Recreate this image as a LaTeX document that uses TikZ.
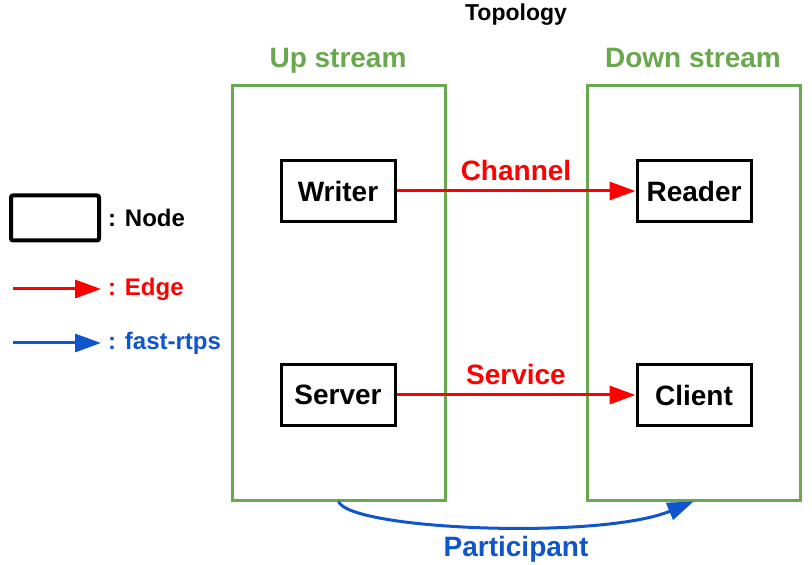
\documentclass[tikz,border=0pt]{standalone}
\usepackage{fontspec}
\setmainfont{Liberation Sans}
\usetikzlibrary{arrows.meta}

\definecolor{upgreen}{RGB}{106,168,79}
\definecolor{rtpsblue}{RGB}{17,85,204}

\begin{document}
\begin{tikzpicture}[x=0.5pt,y=-0.5pt,
	font=\bfseries\fontsize{14}{16}\selectfont,
	stream/.style={draw=upgreen,line width=1.5pt,minimum width=106.5pt,minimum height=207pt,inner sep=0pt},
	block/.style={draw=black,line width=1.5pt,minimum width=57pt,minimum height=30.5pt,inner sep=0pt},
	edgearrow/.style={red,line width=1.5pt,-{Triangle[length=13pt,width=9pt]}},
	rtpsarrow/.style={rtpsblue,line width=1.5pt,-{Triangle[length=13pt,width=9pt]}}]
	
	\useasboundingbox (0,0) rectangle (812,565);
	
	\node[anchor=base] (title) at (516,21) {\fontsize{11.5}{13}\selectfont Topology};
	
	\node[stream] (up)   at (338.5,293) {};
	\node[stream] (down) at (693.5,293) {};
	\node[anchor=base,text=upgreen] (uplabel)   at (338,68) {Up stream};
	\node[anchor=base,text=upgreen] (downlabel) at (693,68) {Down stream};
	
	\node[block] (writer) at (338,191) {Writer};
	\node[block] (server) at (338,395) {Server};
	\node[block] (reader) at (694,191) {Reader};
	\node[block] (client) at (694,395) {Client};
	
	\path[edgearrow] (writer) edge node[above=1pt] {Channel} (reader);
	\path[edgearrow] (server) edge node[above=1pt] {Service} (client);
	
	\draw[rtpsarrow] (up.south) .. controls (350,530) and (600,540) .. (down.south);
	\node[anchor=base,text=rtpsblue] (participant) at (516,556) {Participant};
	
	% legend
	\node[block,line width=2pt,rounded corners=1pt,minimum width=44pt,minimum height=22.5pt] (legnode) at (55,218) {};
	\node[anchor=west,font=\bfseries\fontsize{12}{14}\selectfont] (legnodetext) at (legnode.east) {: Node};
	\coordinate (edgestart) at (13,289);
	\coordinate (edgeend) at (101,289);
	\path[edgearrow] (edgestart) edge (edgeend);
	\node[anchor=west,text=red,font=\bfseries\fontsize{12}{14}\selectfont] (edgetext) at (edgeend) {: Edge};
	\coordinate (rtpsstart) at (13,343);
	\coordinate (rtpsend) at (101,343);
	\path[rtpsarrow] (rtpsstart) edge (rtpsend);
	\node[anchor=west,text=rtpsblue,font=\bfseries\fontsize{12}{14}\selectfont] (rtpstext) at (rtpsend) {: fast-rtps};
	
\end{tikzpicture}
\end{document}
